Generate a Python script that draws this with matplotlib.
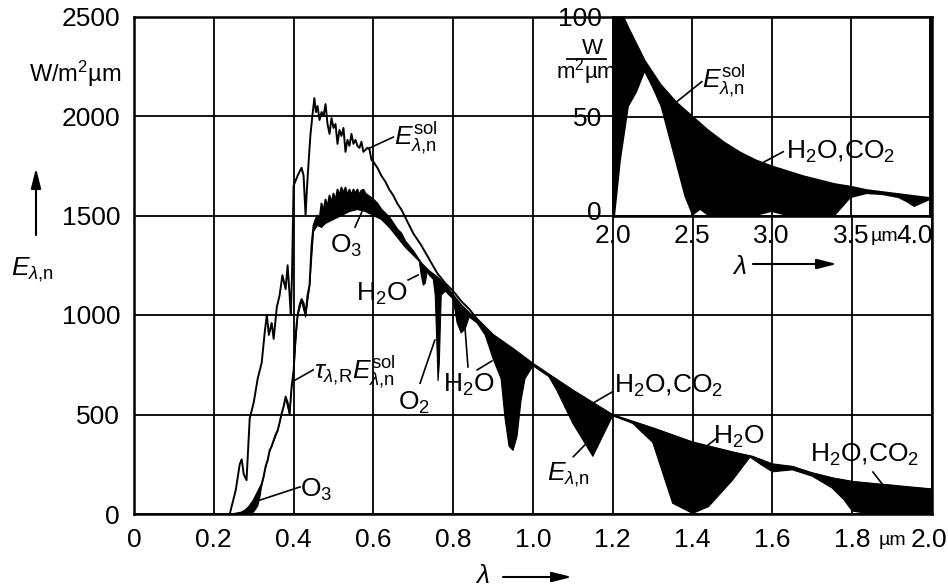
import numpy as np
import matplotlib
matplotlib.use("Agg")
import matplotlib.pyplot as plt
from matplotlib.transforms import ScaledTranslation

plt.rcParams["font.family"] = ["Liberation Sans", "DejaVu Sans"]
plt.rcParams["mathtext.fontset"] = "custom"
plt.rcParams["mathtext.rm"] = "Liberation Sans"
plt.rcParams["mathtext.it"] = "Liberation Sans:italic"
plt.rcParams["mathtext.bf"] = "Liberation Sans:bold"

# extraterrestrial spectrum E_sol (W/m2 um), main panel
sol_wl = [0.24, 0.255, 0.265, 0.27, 0.275, 0.282, 0.29, 0.30, 0.31, 0.32, 0.328, 0.333,
          0.338, 0.345, 0.35, 0.358, 0.365, 0.372, 0.38, 0.385, 0.39, 0.393, 0.396, 0.40,
          0.41, 0.42, 0.425, 0.43, 0.433, 0.437, 0.442, 0.447, 0.452, 0.456, 0.46, 0.465,
          0.47, 0.475, 0.48, 0.485, 0.49, 0.495, 0.50, 0.505, 0.51, 0.515, 0.52, 0.525,
          0.53, 0.535, 0.54, 0.545, 0.55, 0.555, 0.56, 0.565, 0.57, 0.575, 0.58, 0.585,
          0.59, 0.595, 0.60, 0.61, 0.62, 0.63, 0.64, 0.65, 0.66, 0.67, 0.68, 0.69, 0.70,
          0.72, 0.74, 0.76, 0.78, 0.80, 0.82, 0.84, 0.86, 0.88, 0.90, 0.95, 1.0, 1.1, 1.2,
          1.3, 1.4, 1.5, 1.55, 1.6, 1.65, 1.7, 1.75, 1.8, 1.85, 1.9, 1.95, 2.0]
sol_val = [0, 120, 250, 275, 200, 170, 480, 560, 680, 760, 920, 1000,
           900, 960, 880, 1040, 1100, 1200, 1130, 1250, 1100, 1000, 1200, 1650,
           1700, 1740, 1700, 1500, 1620, 1750, 1900, 2000, 2090, 2020, 2050, 1980,
           2020, 2000, 2060, 1960, 1910, 1990, 1940, 1960, 1860, 1930, 1900, 1940,
           1820, 1880, 1850, 1910, 1860, 1880, 1850, 1840, 1870, 1820, 1830, 1840,
           1835, 1780, 1770, 1740, 1700, 1670, 1630, 1600, 1560, 1530, 1490, 1450, 1410,
           1350, 1280, 1210, 1160, 1120, 1070, 1030, 980, 940, 900, 830, 755, 620, 497,
           431, 360, 310, 288, 250, 237, 205, 180, 162, 152, 143, 133, 124]

# after Rayleigh scattering, tau_R * E_sol
tau_wl = [0.25, 0.27, 0.28, 0.29, 0.30, 0.31, 0.32, 0.325, 0.33, 0.335, 0.34, 0.345,
          0.35, 0.355, 0.36, 0.365, 0.37, 0.375, 0.38, 0.385, 0.39, 0.395, 0.40, 0.405,
          0.41, 0.415, 0.42, 0.425, 0.43, 0.435, 0.44, 0.445, 0.45, 0.455, 0.46, 0.465,
          0.47, 0.475, 0.48, 0.485, 0.49, 0.495, 0.50, 0.505, 0.51, 0.515, 0.52, 0.525,
          0.53, 0.535, 0.54, 0.545, 0.55, 0.555, 0.56, 0.565, 0.57, 0.575, 0.58, 0.59,
          0.60, 0.61, 0.62, 0.63, 0.64, 0.65, 0.66, 0.67, 0.68, 0.69, 0.70, 0.72, 0.74,
          0.76, 0.78, 0.80, 0.82, 0.84, 0.86, 0.88, 0.90, 0.95, 1.0, 1.1, 1.2, 1.3, 1.4,
          1.5, 1.55, 1.6, 1.65, 1.7, 1.75, 1.8, 1.85, 1.9, 1.95, 2.0]
tau_val = [0, 8, 20, 40, 70, 110, 150, 190, 240, 270, 320, 340,
           370, 400, 420, 460, 505, 540, 590, 560, 505, 640, 720, 900,
           1000, 1050, 1080, 1060, 1000, 1100, 1150, 1350, 1450, 1480, 1500, 1480,
           1560, 1520, 1580, 1540, 1600, 1560, 1610, 1570, 1630, 1600, 1640, 1610,
           1640, 1600, 1630, 1600, 1630, 1610, 1630, 1600, 1625, 1630, 1610, 1595,
           1580, 1560, 1530, 1510, 1490, 1460, 1430, 1410, 1370, 1345, 1320, 1260, 1220,
           1190, 1150, 1100, 1050, 1010, 970, 935, 895, 825, 750, 620, 495, 430, 358,
           308, 286, 246, 236, 203, 178, 160, 150, 141, 131, 122]

# at ground level, E_lambda,n
gnd_wl = [0.28, 0.29, 0.30, 0.31, 0.315, 0.32, 0.325, 0.33, 0.34, 0.35, 0.36, 0.37,
          0.38, 0.39, 0.395, 0.40, 0.41, 0.42, 0.43, 0.44, 0.45, 0.46, 0.47, 0.48, 0.49,
          0.50, 0.52, 0.54, 0.56, 0.58, 0.60, 0.62, 0.64, 0.66, 0.68, 0.70, 0.71, 0.715,
          0.72, 0.725, 0.73, 0.735, 0.74, 0.75, 0.755, 0.76, 0.762, 0.765, 0.77, 0.78,
          0.80, 0.81, 0.82, 0.83, 0.84, 0.86, 0.88, 0.90, 0.92, 0.93, 0.94, 0.95, 0.96,
          0.97, 0.98, 1.0, 1.04, 1.06, 1.10, 1.15, 1.2, 1.25, 1.3, 1.35, 1.40, 1.44, 1.5,
          1.544, 1.57, 1.6, 1.65, 1.7, 1.75, 1.78, 1.80, 1.84, 1.9, 2.0]
gnd_val = [0, 3, 10, 40, 80, 140, 185, 235, 315, 365, 415, 500,
           580, 500, 630, 710, 990, 1070, 990, 1140, 1420, 1450, 1440, 1460, 1470,
           1480, 1500, 1520, 1530, 1520, 1500, 1480, 1440, 1390, 1340, 1300, 1280, 1270,
           1200, 1150, 1160, 1220, 1200, 1180, 1100, 800, 670, 750, 1100, 1120,
           1080, 960, 910, 930, 990, 960, 900, 780, 680, 480, 340, 320, 390,
           570, 680, 745, 690, 620, 455, 290, 495, 455, 360, 54, 3, 37, 170,
           286, 250, 212, 222, 190, 130, 70, 15, 2, 0, 0]

# infrared inset, 2 - 4 um
ir_sol_wl = [2.0, 2.065, 2.1, 2.2, 2.3, 2.4, 2.5, 2.6, 2.7, 2.8, 2.9, 3.0, 3.2, 3.4,
             3.5, 3.6, 3.8, 4.0]
ir_sol_val = [122, 100, 94, 78, 66, 57, 50, 43, 37, 32, 28, 25, 20, 16, 14.7, 13, 11, 9]
ir_gnd_wl = [2.0, 2.013, 2.05, 2.1, 2.15, 2.2, 2.25, 2.3, 2.35, 2.4, 2.45, 2.5, 2.55,
             2.6, 2.9, 3.0, 3.1, 3.4, 3.5, 3.6, 3.7, 3.8, 3.85, 3.9, 4.0]
ir_gnd_val = [0, 0, 28, 55, 62, 72, 64, 55, 40, 25, 10, 0, 3,
              0, 0, 2, 0, 0, 9, 11, 10.5, 9, 7, 4.5, 8]

x_ticks = [0, 0.2, 0.4, 0.6, 0.8, 1.0, 1.2, 1.4, 1.6, 1.8, 2.0]
x_tick_labels = ["0", "0.2", "0.4", "0.6", "0.8", "1.0", "1.2", "1.4", "1.6", "1.8", "2.0"]
y_ticks = [0, 500, 1000, 1500, 2000, 2500]
ir_x_ticks = [2.0, 2.5, 3.0, 3.5, 4.0]
ir_x_tick_labels = ["2.0", "2.5", "3.0", "3.5", "4.0"]
ir_y_ticks = [0, 50, 100]

FS = 19
E_N = r"E_{\lambda{,}\mathrm{n}}"
E_SOL = r"E_{\lambda{,}\mathrm{n}}^{\mathrm{sol}}"


def leader(axis, p0, p1):
    axis.plot([p0[0], p1[0]], [p0[1], p1[1]], color="black", lw=1.2, zorder=4)


def arrow(fig_ax, start, end):
    fig_ax.annotate("", xy=end, xytext=start, xycoords="figure pixels",
                    textcoords="figure pixels",
                    arrowprops=dict(arrowstyle="-|>,head_length=0.6,head_width=0.15",
                                    color="black", lw=1.5, mutation_scale=20,
                                    shrinkA=0, shrinkB=0))


def shift(label, dx_px, dy_px):
    label.set_transform(label.get_transform()
                        + ScaledTranslation(dx_px / 100, dy_px / 100, fig.dpi_scale_trans))


fig = plt.figure(figsize=(9.48, 5.88), dpi=100)
ax = fig.add_axes([134 / 948, 74 / 588, 798 / 948, 497.5 / 588])

ax.fill(np.r_[tau_wl, gnd_wl[::-1]], np.r_[tau_val, gnd_val[::-1]],
        color="black", lw=0, zorder=2)
ax.plot(sol_wl, sol_val, color="black", lw=1.4, zorder=3)
ax.plot(tau_wl, tau_val, color="black", lw=1.4, zorder=3)
ax.plot(gnd_wl, gnd_val, color="black", lw=0.8, zorder=3)

ax.set_xlim(0, 2.0)
ax.set_ylim(0, 2500)
ax.set_xticks(x_ticks, x_tick_labels)
ax.set_xticks([1.9], ["µm"], minor=True)
ax.set_yticks(y_ticks, [str(v) for v in y_ticks])
ax.grid(True, which="major", color="black", lw=1.3)
ax.set_axisbelow(True)
ax.tick_params(which="both", length=0, labelsize=FS)
ax.tick_params(axis="x", which="both", pad=10)
ax.tick_params(axis="y", pad=10)
for s in ax.spines.values():
    s.set_linewidth(1.8)

# labels with leader lines
leader(ax, (0.587, 1836), (0.650, 1894))
ax.text(0.652, 1890, "$" + E_SOL + "$", fontsize=FS, ha="left", va="center")
leader(ax, (0.554, 1442), (0.571, 1518))
ax.text(0.531, 1347, r"O$_3$", fontsize=FS, ha="center", va="center")
leader(ax, (0.687, 1176), (0.712, 1201))
ax.text(0.622, 1106, r"H$_2$O", fontsize=FS, ha="center", va="center")
leader(ax, (0.717, 657), (0.754, 874))
ax.text(0.702, 558, r"O$_2$", fontsize=FS, ha="center", va="center")
leader(ax, (0.837, 739), (0.830, 925))
leader(ax, (0.860, 724), (0.897, 769))
ax.text(0.840, 648, r"H$_2$O", fontsize=FS, ha="center", va="center")
leader(ax, (1.150, 557), (1.200, 615))
ax.text(1.203, 643, r"H$_2$O,CO$_2$", fontsize=FS, ha="left", va="center")
leader(ax, (1.101, 288), (1.130, 347))
ax.text(1.088, 196, "$" + E_N + "$", fontsize=FS, ha="center", va="center")
leader(ax, (1.431, 335), (1.460, 380))
ax.text(1.516, 387, r"H$_2$O", fontsize=FS, ha="center", va="center")
leader(ax, (1.852, 211), (1.877, 146))
ax.text(1.832, 296, r"H$_2$O,CO$_2$", fontsize=FS, ha="center", va="center")
leader(ax, (0.404, 673), (0.449, 724))
ax.text(0.450, 714, r"$\tau_{\lambda{,}\mathrm{R}}" + E_SOL + "$", fontsize=FS,
        ha="left", va="center")
leader(ax, (0.316, 70), (0.416, 136))
ax.text(0.416, 121, r"O$_3$", fontsize=FS, ha="left", va="center")

# axis titles and arrows (figure pixels)
fig.text(121 / 948, 1 - 74 / 588, r"W/m$^2$µm", fontsize=17, ha="right", va="center")
arrow(ax, (36, 353), (36, 420))
fig.text(32 / 948, 318 / 588, "$" + E_N + "$", fontsize=FS, ha="center", va="center")
fig.text(482 / 948, 12 / 588, r"$\lambda$", fontsize=FS, ha="center", va="center")
arrow(ax, (503, 11), (572, 11))

# inset
ins = fig.add_axes([613 / 948, 372 / 588, 317 / 948, 199 / 588], zorder=5)
ins.set_facecolor("white")
ins.fill(np.r_[ir_sol_wl, ir_gnd_wl[::-1]], np.r_[ir_sol_val, ir_gnd_val[::-1]],
         color="black", lw=0, zorder=2)
ins.plot(ir_sol_wl, ir_sol_val, color="black", lw=1.4, zorder=3)
ins.set_xlim(2.0, 4.0)
ins.set_ylim(0, 100)
ins.set_xticks(ir_x_ticks, ir_x_tick_labels)
ins.set_xticks([3.71], ["µm"], minor=True)
ins.set_yticks(ir_y_ticks, [str(v) for v in ir_y_ticks])
ins.grid(True, which="major", color="black", lw=1.3)
ins.set_axisbelow(True)
ins.tick_params(which="both", length=0, labelsize=FS)
ins.tick_params(axis="x", which="both", pad=6)
ins.tick_params(axis="y", pad=8)
for s in ins.spines.values():
    s.set_linewidth(1.8)

for lab in ins.get_xticklabels(minor=True) + ax.get_xticklabels(minor=True):
    lab.set_fontsize(14)
    shift(lab, 0, -4)
last = ins.get_xticklabels()[-1]
last.set_horizontalalignment("right")
shift(last, 3, 0)
shift(ax.get_xticklabels()[-1], -3, 0)
shift(ins.get_yticklabels()[0], 0, 5)

leader(ins, (2.402, 57.4), (2.56, 67.5))
ins.text(2.56, 68, "$" + E_SOL + "$", fontsize=FS, ha="left", va="center")
leader(ins, (2.938, 26.5), (3.074, 32.3))
ins.text(3.09, 32.2, r"H$_2$O,CO$_2$", fontsize=FS, ha="left", va="center")

fig.text(592 / 948, 540 / 588, "W", fontsize=16, ha="center", va="center")
fig.add_artist(plt.Line2D([567 / 948, 606 / 948], [529 / 588, 529 / 588],
                          color="black", lw=1.3))
fig.text(586 / 948, 516 / 588, r"m$^2$µm", fontsize=16, ha="center", va="center")
fig.text(739 / 948, 321 / 588, r"$\lambda$", fontsize=FS, ha="center", va="center")
arrow(ax, (753, 324), (837, 324))

fig.savefig("out.png", dpi=100)
